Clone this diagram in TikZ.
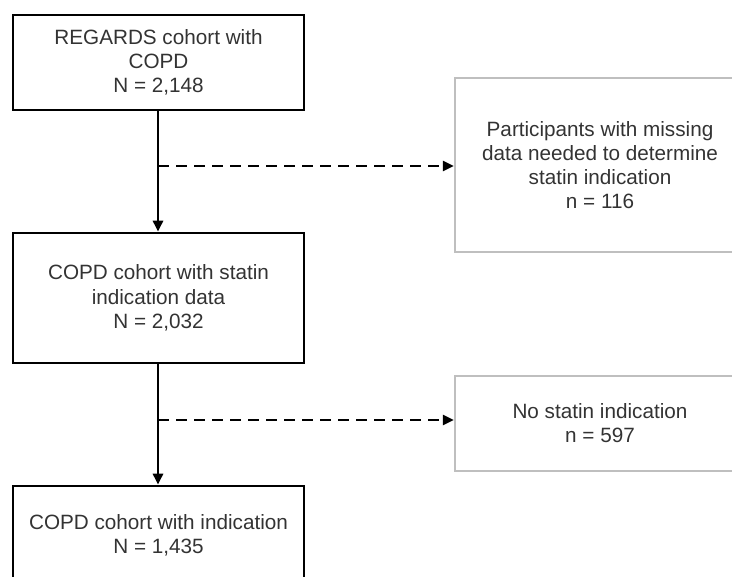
\documentclass[tikz,border=0pt]{standalone}
\usepackage{fontspec}
\setmainfont{Liberation Sans}
\usetikzlibrary{arrows.meta}
\begin{document}
\begin{tikzpicture}[x=1pt,y=-1pt,
  txt/.style={font=\fontsize{20.7}{24.2}\selectfont, text=black!80, align=center},
  mainbox/.style={txt, draw=black, line width=2.6pt, rectangle, inner sep=0pt},
  sidebox/.style={txt, draw=black!25, line width=2.2pt, rectangle, inner sep=0pt},
  flow/.style={line width=2.6pt, -{Triangle[length=11pt,width=10pt]}},
  excl/.style={line width=2.6pt, dash pattern=on 11pt off 7pt, -{Triangle[length=11pt,width=10pt]}}
]
\useasboundingbox (0,0) rectangle (732,577);
\clip (0,0) rectangle (732,577);
\node[mainbox, minimum width=291pt, minimum height=95pt] (b1) at (158.5,62.5)
  {REGARDS cohort with\\COPD\\N = 2,148};
\node[mainbox, minimum width=291pt, minimum height=130pt] (b2) at (158.5,298)
  {COPD cohort with statin\\indication data\\N = 2,032};
\node[mainbox, minimum width=291pt, minimum height=98pt] (b3) at (158.5,535)
  {COPD cohort with indication\\N = 1,435};
\node[sidebox, minimum width=290pt, minimum height=174pt] (s1) at (600,165)
  {Participants with missing\\data needed to determine\\statin indication\\n = 116};
\node[sidebox, minimum width=290pt, minimum height=95pt] (s2) at (600,423.5)
  {No statin indication\\n = 597};
\coordinate (j1) at (158,166);
\coordinate (j2) at (158,420);
\draw[flow] (b1.south -| j1) -- (b2.north -| j1);
\draw[flow] (b2.south -| j2) -- (b3.north -| j2);
\draw[excl] (j1) -- (j1 -| s1.west);
\draw[excl] (j2) -- (j2 -| s2.west);
\end{tikzpicture}
\end{document}
